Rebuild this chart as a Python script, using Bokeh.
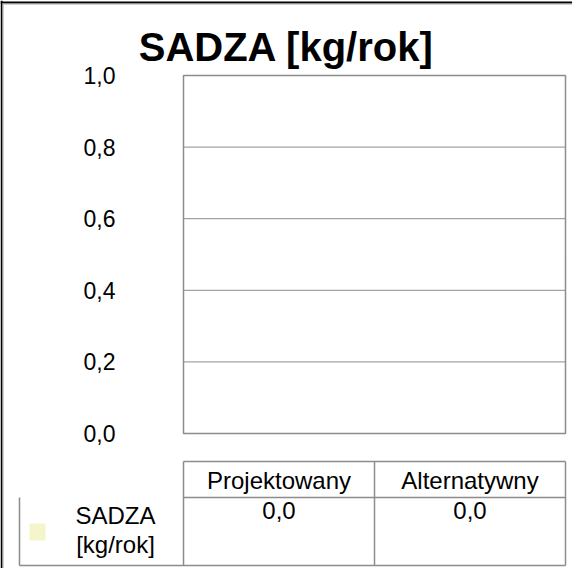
from bokeh.plotting import figure
from bokeh.models import Range1d
from bokeh.core.properties import value
from bokeh.embed import file_html
from bokeh.resources import INLINE

# ---- data ----
title_text = "SADZA [kg/rok]"
categories = ["Projektowany", "Alternatywny"]
series_name = "SADZA [kg/rok]"
series_values = [0.0, 0.0]
y_ticks = [0.0, 0.2, 0.4, 0.6, 0.8, 1.0]
y_tick_labels = ["0,0", "0,2", "0,4", "0,6", "0,8", "1,0"]
series_color = "#F5F5CC"

# ---- layout (canvas pixels) ----
W, H = 572, 568
PL, PR, PT, PB = 183, 565, 75, 433          # plot area
HT, HB = 461, 497                            # table header row
RB = 565                                     # table data row bottom
RL = 19                                      # table data row left
FONT = "Liberation Sans"
GRID = "#8c8c8c"
FS = "24px"

p = figure(width=W, height=H, x_range=Range1d(0, W), y_range=Range1d(H, 0),
           output_backend="svg", toolbar_location=None, min_border=0,
           x_axis_location=None, y_axis_location=None)
p.grid.visible = False
p.outline_line_color = None
p.background_fill_color = "white"
p.border_fill_color = "white"

vmin, vmax = y_ticks[0], y_ticks[-1]
scale = (PB - PT) / (vmax - vmin)
p.extra_y_ranges = {"val": Range1d(start=vmin - (H - PB) / scale, end=vmin + PB / scale)}

# outer frame (left + top)
p.segment(x0=[1, 0], y0=[0, 2], x1=[1, W], y1=[H, 2], line_color="#000000", line_width=2)
p.segment(x0=[2.5, 2], y0=[3, 3.5], x1=[2.5, W], y1=[H, 3.5], line_color="#a0a0a0", line_width=1)

# title
p.text(x=[286], y=[46], text=[title_text], text_font=value(FONT), text_font_style="bold",
       text_font_size="40px", text_align="center", text_baseline="middle", text_color="black")

# gridlines and plot box
inner = [t for t in y_ticks if vmin < t < vmax]
p.segment(x0=[PL] * len(inner), x1=[PR] * len(inner), y0=inner, y1=inner,
          y_range_name="val", line_color=GRID, line_width=1)
p.quad(left=[PL], right=[PR], bottom=[vmin], top=[vmax], y_range_name="val",
       fill_color=None, line_color=GRID, line_width=1.5)

# bars (values)
ncat = len(categories)
colw = (PR - PL) / ncat
centers = [PL + colw * (i + 0.5) for i in range(ncat)]
p.vbar(x=centers, top=series_values, bottom=vmin, width=colw * 0.5, y_range_name="val",
       fill_color=series_color, line_color=None)

# y tick labels
p.text(x=[PL - 68] * len(y_ticks), y=y_ticks, text=y_tick_labels, y_range_name="val",
       text_font=value(FONT), text_font_size="23px", text_align="right",
       text_baseline="middle", text_color="black")

# data table
xs0 = [PL, PL, RL, RL, PL, PL + colw, PR]
ys0 = [HT, HB, HB, RB, HT, HT, HT]
xs1 = [PR, PR, RL, PR, PL, PL + colw, PR]
ys1 = [HT, HB, RB, RB, RB, RB, RB]
p.segment(x0=xs0, y0=ys0, x1=xs1, y1=ys1, line_color=GRID, line_width=1.5)

p.text(x=centers, y=[(HT + HB) / 2 + 1] * ncat, text=categories, text_font=value(FONT),
       text_font_size=FS, text_align="center", text_baseline="middle", text_color="black")
p.text(x=centers, y=[HB + 4] * ncat, text=[f"{v:.1f}".replace(".", ",") for v in series_values],
       text_font=value(FONT), text_font_size=FS, text_align="center",
       text_baseline="top", text_color="black")
p.text(x=[115], y=[HB + 4], text=[series_name.replace(" ", "\n")], text_font=value(FONT),
       text_font_size=FS, text_align="center", text_baseline="top",
       text_line_height=1.1, text_color="black")
p.rect(x=[37], y=[531.5], width=16, height=17, fill_color=series_color, line_color=None)

open("out.html", "w").write(file_html(p, INLINE))
